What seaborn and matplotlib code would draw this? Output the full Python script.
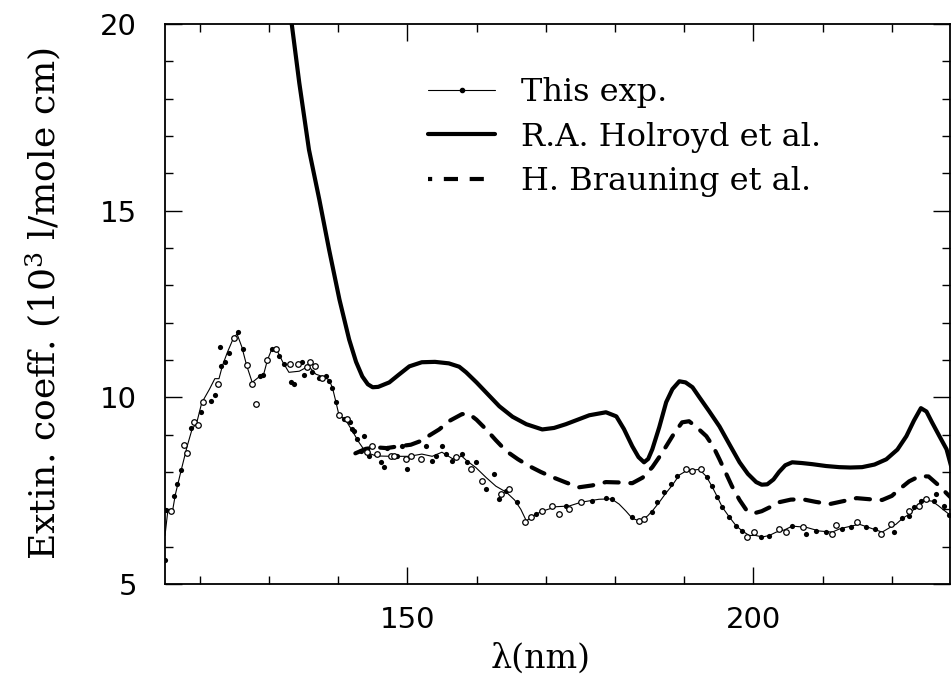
import matplotlib
matplotlib.use("Agg")
import matplotlib.pyplot as plt
from matplotlib.lines import Line2D
from matplotlib.ticker import MultipleLocator, FixedLocator
import seaborn as sns
import pandas as pd

# ---- This experiment: smoothed curve through the measurements ----
exp_curve_x = [115.0, 115.4, 116.1, 116.5, 117.3, 118.2, 118.9, 119.6, 120.3, 121.4,
               122.2, 122.8, 123.3, 124.0, 124.8, 125.4, 126.1, 126.8, 127.6, 128.6,
               129.3, 129.8, 130.4, 131.2, 132.0, 132.9, 134.4, 135.4, 136.0, 136.8,
               137.7, 138.7, 139.2, 139.7, 140.1, 141.2, 142.0, 143.0, 144.0, 145.5,
               147.8, 150.3, 152.1, 153.6, 155.0, 156.5, 157.9, 158.6, 159.9, 161.4,
               162.8, 164.3, 165.5, 166.4, 167.2, 167.9, 168.6, 169.5, 171.5, 173.4,
               175.1, 177.7, 179.5, 180.6, 181.6, 182.5, 183.5, 184.7, 185.5, 186.4,
               187.3, 188.3, 189.3, 190.3, 192.2, 193.2, 194.0, 194.8, 195.5, 196.5,
               197.5, 198.4, 199.4, 200.3, 201.3, 202.3, 203.3, 204.5, 205.6, 207.6,
               209.5, 211.4, 212.5, 213.4, 215.3, 217.2, 218.6, 219.6, 220.6, 221.5,
               222.5, 223.5, 224.4, 225.8, 226.7, 227.5, 228.6]
exp_curve_y = [6.30, 6.95, 6.97, 7.40, 8.02, 8.69, 9.14, 9.33, 9.85, 10.21,
               10.50, 10.50, 10.85, 11.20, 11.55, 11.70, 11.35, 10.85, 10.40, 10.55,
               10.65, 11.00, 11.28, 11.25, 10.95, 10.67, 10.70, 10.80, 10.78, 10.62,
               10.56, 10.47, 10.25, 9.87, 9.55, 9.36, 9.12, 8.80, 8.53, 8.43,
               8.42, 8.42, 8.48, 8.42, 8.53, 8.36, 8.42, 8.30, 8.12, 7.85,
               7.62, 7.46, 7.25, 7.00, 6.69, 6.79, 6.87, 6.95, 7.07, 7.09,
               7.19, 7.27, 7.28, 7.14, 6.95, 6.76, 6.69, 6.82, 6.98, 7.19,
               7.42, 7.65, 7.92, 8.03, 8.07, 7.88, 7.62, 7.33, 7.06, 6.80,
               6.56, 6.42, 6.30, 6.30, 6.26, 6.30, 6.39, 6.45, 6.55, 6.52,
               6.42, 6.39, 6.48, 6.52, 6.60, 6.48, 6.39, 6.50, 6.60, 6.75,
               6.87, 7.06, 7.25, 7.22, 7.10, 6.98, 6.82]

# ---- This experiment: individual measurements (two runs) ----
run_filled_x = [115.0, 115.2, 116.3, 116.7, 117.3, 118.8, 120.2, 121.6, 122.2, 122.9,
                123.1, 123.6, 124.3, 125.6, 126.2, 128.7, 129.2, 130.4, 131.5, 132.2,
                133.2, 133.6, 134.8, 135.1, 136.2, 137.3, 138.2, 138.7, 139.1, 139.7,
                140.9, 141.7, 142.0, 142.3, 142.7, 143.3, 143.8, 144.5, 146.2, 146.6,
                147.1, 148.5, 149.2, 149.9, 152.7, 153.6, 154.2, 155.0, 155.6, 156.5,
                157.9, 158.6, 159.9, 161.4, 162.5, 163.3, 164.3, 165.9, 168.6, 172.9,
                176.7, 178.7, 179.6, 182.5, 185.4, 186.1, 187.1, 188.1, 189.0, 193.3,
                194.0, 194.8, 195.5, 196.5, 197.5, 198.4, 201.1, 202.3, 205.6, 207.6,
                209.1, 210.5, 212.8, 214.1, 216.3, 217.5, 220.3, 221.5, 222.5, 223.2,
                224.2, 226.1, 226.4, 227.6, 228.3]
run_filled_y = [5.65, 6.98, 7.35, 7.67, 8.05, 9.17, 9.60, 9.90, 10.05, 11.35,
                10.83, 10.94, 11.20, 11.75, 11.30, 10.56, 10.59, 11.30, 11.10, 10.88,
                10.40, 10.35, 10.95, 10.59, 10.67, 10.53, 10.56, 10.43, 10.24, 9.87,
                9.41, 9.33, 9.14, 9.09, 8.88, 8.56, 8.96, 8.42, 8.26, 8.13,
                8.64, 8.42, 8.69, 8.07, 8.69, 8.29, 8.42, 8.69, 8.48, 8.29,
                8.48, 8.26, 8.26, 7.54, 7.94, 7.27, 7.49, 7.19, 6.87, 7.09,
                7.22, 7.30, 7.27, 6.79, 6.92, 7.19, 7.46, 7.67, 7.89, 7.86,
                7.62, 7.33, 7.06, 6.79, 6.55, 6.42, 6.26, 6.28, 6.55, 6.34,
                6.42, 6.39, 6.47, 6.52, 6.52, 6.47, 6.39, 6.77, 6.82, 7.06,
                7.22, 7.22, 7.41, 7.09, 6.85]
run_open_x = [115.8, 117.7, 118.2, 119.2, 119.8, 120.5, 122.7, 124.9, 126.8, 127.6,
              128.2, 129.8, 131.0, 133.0, 134.2, 135.5, 136.0, 136.7, 137.7, 140.1,
              141.3, 144.2, 144.9, 145.6, 147.7, 148.1, 149.8, 150.5, 152.0, 157.0,
              159.2, 160.8, 163.6, 164.7, 167.0, 167.9, 169.5, 170.9, 171.9, 173.4,
              175.1, 183.5, 184.2, 190.3, 191.2, 192.4, 199.1, 200.1, 203.7, 204.7,
              207.1, 211.4, 212.0, 215.0, 218.5, 219.9, 222.5, 223.9, 224.9]
run_open_y = [6.95, 8.72, 8.50, 9.33, 9.25, 9.87, 10.37, 11.60, 10.86, 10.37,
              9.81, 11.00, 11.30, 10.90, 10.88, 10.80, 10.95, 10.83, 10.53, 9.52,
              9.41, 8.53, 8.69, 8.48, 8.42, 8.42, 8.34, 8.42, 8.34, 8.40,
              8.07, 7.75, 7.40, 7.54, 6.66, 6.79, 6.95, 7.09, 6.87, 7.00,
              7.19, 6.69, 6.74, 8.07, 8.02, 8.07, 6.26, 6.39, 6.47, 6.39,
              6.52, 6.34, 6.58, 6.66, 6.34, 6.60, 6.95, 7.09, 7.27]

# ---- R.A. Holroyd et al. ----
holroyd_x = [133.1, 134.4, 135.8, 137.3, 138.7, 140.2, 141.6, 142.6, 143.5, 144.3,
             145.0, 145.8, 147.4, 148.8, 150.3, 152.1, 154.0, 156.0, 157.5, 158.5,
             160.0, 161.7, 163.3, 165.2, 167.2, 169.5, 171.2, 172.9, 174.6, 176.3,
             178.7, 180.2, 181.3, 182.5, 183.4, 184.2, 184.8, 185.4, 186.4, 187.4,
             188.3, 189.3, 190.2, 191.2, 192.2, 193.6, 195.1, 196.6, 198.0, 199.2,
             200.4, 201.2, 202.0, 202.9, 203.7, 204.6, 205.6, 207.0, 208.5, 210.5,
             212.4, 214.0, 215.7, 217.5, 219.2, 220.8, 222.1, 223.2, 224.2, 225.0,
             225.8, 226.9, 227.9, 228.6]
holroyd_y = [20.30, 18.42, 16.63, 15.29, 13.96, 12.62, 11.55, 10.95, 10.56, 10.35,
             10.27, 10.28, 10.40, 10.61, 10.83, 10.94, 10.95, 10.91, 10.82, 10.67,
             10.40, 10.07, 9.76, 9.48, 9.28, 9.14, 9.18, 9.28, 9.40, 9.52,
             9.60, 9.49, 9.15, 8.69, 8.40, 8.26, 8.35, 8.61, 9.20, 9.87,
             10.22, 10.43, 10.40, 10.27, 10.00, 9.63, 9.22, 8.72, 8.26, 7.95,
             7.73, 7.66, 7.67, 7.80, 8.00, 8.18, 8.26, 8.24, 8.21, 8.16,
             8.13, 8.12, 8.13, 8.20, 8.34, 8.60, 8.96, 9.38, 9.71, 9.62,
             9.33, 8.95, 8.61, 8.13]

# ---- H. Brauning et al. ----
brauning_x = [142.5, 144.0, 145.5, 147.0, 148.8, 150.5, 151.8, 153.2, 154.6, 156.2,
              157.9, 158.9, 160.0, 161.4, 162.8, 164.3, 166.0, 167.6, 169.3, 171.0,
              172.9, 174.8, 176.7, 178.7, 180.6, 182.5, 184.0, 185.4, 186.4, 187.4,
              188.6, 189.7, 190.7, 191.8, 193.2, 194.2, 195.1, 196.0, 196.9, 198.0,
              199.1, 200.2, 201.2, 202.3, 203.7, 205.4, 207.1, 209.0, 211.0, 213.0,
              214.9, 216.8, 218.6, 220.0, 221.1, 222.5, 224.0, 225.3, 226.9, 228.0,
              228.6]
brauning_y = [8.50, 8.62, 8.66, 8.64, 8.69, 8.73, 8.82, 8.98, 9.14, 9.38,
              9.55, 9.56, 9.40, 9.14, 8.85, 8.56, 8.34, 8.16, 8.00, 7.86,
              7.72, 7.59, 7.64, 7.73, 7.72, 7.70, 7.85, 8.13, 8.40, 8.69,
              9.05, 9.33, 9.36, 9.20, 8.96, 8.68, 8.34, 7.98, 7.62, 7.25,
              6.95, 6.90, 6.95, 7.05, 7.19, 7.26, 7.27, 7.20, 7.14, 7.22,
              7.30, 7.27, 7.25, 7.36, 7.54, 7.75, 7.89, 7.88, 7.62, 7.41,
              7.30]

x_major = [150, 200]
y_major = [5, 10, 15, 20]
legend_labels = ["This exp.", "R.A. Holroyd et al.", "H. Brauning et al."]

sns.set_style("ticks")
plt.rcParams["font.family"] = ["DejaVu Serif"]
plt.rcParams["mathtext.fontset"] = "dejavuserif"
for key in ["text.color", "axes.labelcolor", "xtick.color", "ytick.color",
            "axes.edgecolor"]:
    plt.rcParams[key] = "black"

fig = plt.figure(figsize=(9.52, 6.88), dpi=100)
ax = fig.add_axes([165 / 952, 104 / 688, 785 / 952, 560 / 688])

dash_pat = (0, (3.4, 2.8))

sns.lineplot(x=holroyd_x, y=holroyd_y, ax=ax, color="black", lw=3.0,
             sort=False, estimator=None, solid_capstyle="butt")
sns.lineplot(x=brauning_x, y=brauning_y, ax=ax, color="black", lw=3.0,
             sort=False, estimator=None)
ax.lines[-1].set_linestyle(dash_pat)
ax.lines[-1].set_dash_capstyle("round")

sns.lineplot(x=exp_curve_x, y=exp_curve_y, ax=ax, color="black", lw=0.8,
             sort=False, estimator=None)

filled = pd.DataFrame({"x": run_filled_x, "y": run_filled_y})
opened = pd.DataFrame({"x": run_open_x, "y": run_open_y})
sns.scatterplot(data=filled, x="x", y="y", ax=ax, color="black", s=14,
                marker="o", linewidth=0, zorder=4)
sns.scatterplot(data=opened, x="x", y="y", ax=ax, facecolor="white",
                edgecolor="black", s=16, marker="o", linewidth=0.9, zorder=4)

ax.set_xlim(115, 228.4)
ax.set_ylim(5, 20)
ax.xaxis.set_major_locator(FixedLocator(x_major))
ax.xaxis.set_minor_locator(MultipleLocator(10))
ax.yaxis.set_major_locator(FixedLocator(y_major))
ax.yaxis.set_minor_locator(MultipleLocator(1))

for side in ["top", "right", "bottom", "left"]:
    ax.spines[side].set_visible(True)
    ax.spines[side].set_linewidth(1.3)
    ax.spines[side].set_color("black")

ax.tick_params(which="both", direction="in", top=True, right=True,
               width=1.0, color="black", labelcolor="black")
ax.tick_params(which="major", length=12)
ax.tick_params(which="minor", length=6)
ax.tick_params(axis="y", which="major", pad=20)
ax.tick_params(axis="x", which="major", pad=16)
for lab in ax.get_xticklabels() + ax.get_yticklabels():
    lab.set_fontfamily("DejaVu Sans")
    lab.set_fontsize(21)

ax.set_xlabel("λ(nm)", fontsize=24)
ax.set_ylabel(r"Extin. coeff. (10$^3$ l/mole cm)", fontsize=26)
ax.xaxis.set_label_coords(0.479, -0.105)
ax.yaxis.set_label_coords(-0.13, 0.5)

handles = [
    Line2D([], [], color="black", lw=0.8, marker="o", markersize=3),
    Line2D([], [], color="black", lw=3.0),
    Line2D([], [], color="black", lw=3.0, linestyle=(2.4, (3.4, 2.8))),
]
ax.legend(handles, legend_labels, loc="upper left",
          bbox_to_anchor=(0.335, 0.905), frameon=False, fontsize=23,
          handlelength=2.1, handletextpad=0.8, labelspacing=0.42,
          borderpad=0, borderaxespad=0, numpoints=1)

fig.savefig("out.png", dpi=100)
